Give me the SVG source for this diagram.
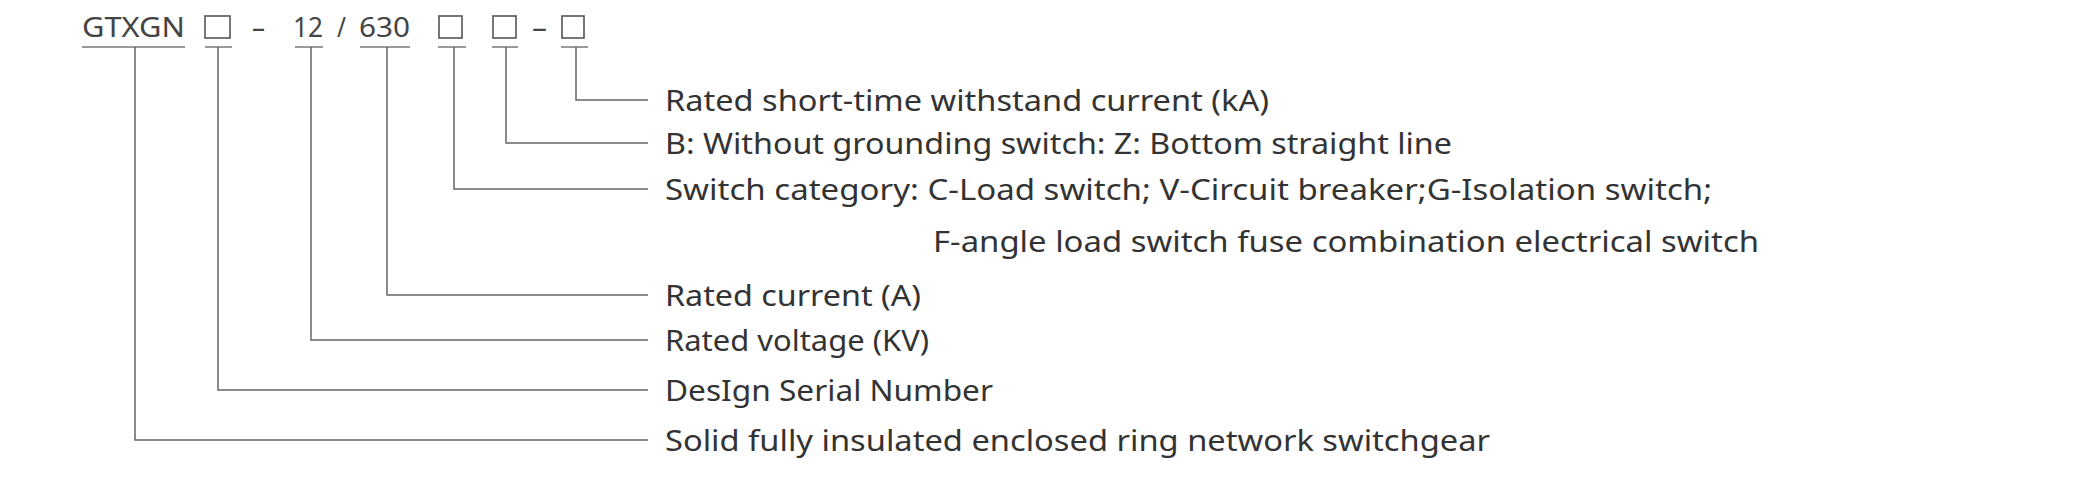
<svg xmlns="http://www.w3.org/2000/svg" width="2100" height="480" viewBox="0 0 2100 480">
<style>
.t{font-family:"Noto Sans","DejaVu Sans",sans-serif;font-size:29px;fill:#333}
.h{font-family:"Noto Sans","DejaVu Sans",sans-serif;font-size:28px;fill:#444}
.u{stroke:#999;stroke-width:2;fill:none}
.b{stroke:#555;stroke-width:1.6;fill:none}
.c{stroke:#666;stroke-width:1.5;fill:none}
</style>
<rect width="2100" height="480" fill="#fff"/>
<g id="code">
<text class="h" x="82" y="37" textLength="103" lengthAdjust="spacingAndGlyphs">GTXGN</text>
<rect class="b" x="205" y="16" width="25" height="22"/>
<text class="h" x="252" y="37" textLength="13" lengthAdjust="spacingAndGlyphs">–</text>
<text class="h" x="293" y="37" textLength="30" lengthAdjust="spacingAndGlyphs">12</text>
<text class="h" x="337" y="37" textLength="9" lengthAdjust="spacingAndGlyphs">/</text>
<text class="h" x="359" y="37" textLength="51" lengthAdjust="spacingAndGlyphs">630</text>
<rect class="b" x="439" y="16" width="23" height="22"/>
<rect class="b" x="493" y="16" width="23" height="22"/>
<text class="h" x="532" y="37" textLength="15" lengthAdjust="spacingAndGlyphs">–</text>
<rect class="b" x="562" y="16" width="22" height="22"/>
<path class="u" d="M82 47H185M205 47H232M295 47H323M360 47H410M438 47H466M492 47H518M561 47H588"/>
</g>
<g id="connectors">
<path class="c" d="M576 47V100H648M506 47V143H648M454 47V189H648M387 47V295H648M311 47V340H648M218 47V390H648M135 47V440H648"/>
</g>
<g id="n1"><text class="t" x="665" y="111" textLength="604" lengthAdjust="spacingAndGlyphs">Rated short-time withstand current (kA)</text></g>
<g id="n2"><text class="t" x="665" y="154" textLength="787" lengthAdjust="spacingAndGlyphs">B: Without grounding switch: Z: Bottom straight line</text></g>
<g id="n3"><text class="t" x="665" y="200" textLength="1047" lengthAdjust="spacingAndGlyphs">Switch category: C-Load switch; V-Circuit breaker;G-Isolation switch;</text>
<text class="t" x="933" y="252" textLength="826" lengthAdjust="spacingAndGlyphs">F-angle load switch fuse combination electrical switch</text></g>
<g id="n4"><text class="t" x="665" y="306" textLength="256" lengthAdjust="spacingAndGlyphs">Rated current (A)</text></g>
<g id="n5"><text class="t" x="665" y="351" textLength="264" lengthAdjust="spacingAndGlyphs">Rated voltage (KV)</text></g>
<g id="n6"><text class="t" x="665" y="401" textLength="328" lengthAdjust="spacingAndGlyphs">DesIgn Serial Number</text></g>
<g id="n7"><text class="t" x="665" y="451" textLength="825" lengthAdjust="spacingAndGlyphs">Solid fully insulated enclosed ring network switchgear</text></g>
</svg>
